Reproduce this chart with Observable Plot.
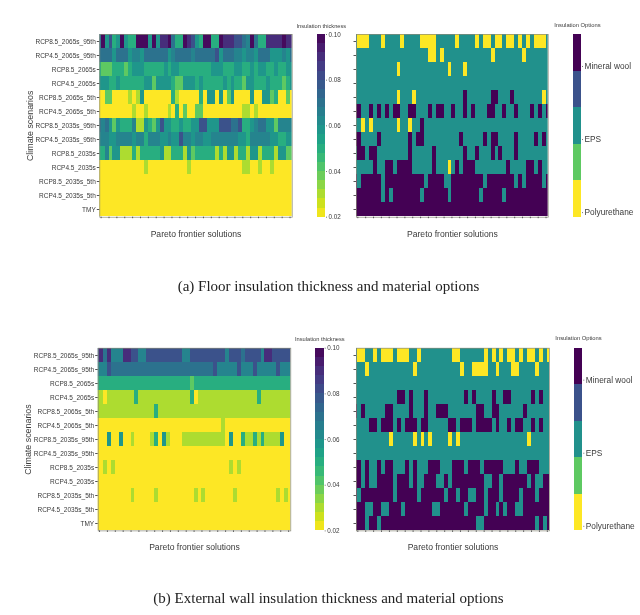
<!DOCTYPE html>
<html>
<head>
<meta charset="utf-8">
<script src="https://cdn.jsdelivr.net/npm/d3@7"></script>
<script src="https://cdn.jsdelivr.net/npm/@observablehq/plot@0.6"></script>
<style>
  html, body { margin: 0; padding: 0; background: #fff; }
  #page { position: relative; width: 640px; height: 615px; overflow: hidden; font-family: "Liberation Sans", Arial, sans-serif; }
  #page svg { position: absolute; overflow: visible; filter: blur(0.4px); }
  .caption { position: absolute; left: 8.5px; width: 640px; text-align: center; font-family: "Liberation Serif", "Times New Roman", serif; font-size: 15px; color: #222; line-height: 16px; filter: blur(0.25px); }
</style>
</head>
<body>
<div id="page"></div>
<script>
const scenarios = ["RCP8.5_2065s_95th","RCP4.5_2065s_95th","RCP8.5_2065s","RCP4.5_2065s","RCP8.5_2065s_5th","RCP4.5_2065s_5th","RCP8.5_2035s_95th","RCP4.5_2035s_95th","RCP8.5_2035s","RCP4.5_2035s","RCP8.5_2035s_5th","RCP4.5_2035s_5th","TMY"];

// thickness classes (letter -> metres)
const thicknessCode = {a:0.02,b:0.03,c:0.04,d:0.05,e:0.058,f:0.064,g:0.07,h:0.08,i:0.09,j:0.098};

// Floor thickness: one string per scenario, 50 columns (first and last are cut by the frame)
const floorThickness = [
 "gjehd ejedd jjjej eiijg ddjih edjjd djiii hhgfj gddii iijii",
 "gggge gggef feggg gggef ggggf ggggg heggg ffeff eggge eefeg",
 "dcccd ddcde eeddd ddede edddd dddde eeddd eedde deedd eddee",
 "eeedd edddd ddeec eeeed cceee deddd ddede ddcee ddded ddcde",
 "aacca aaaba beaaa aaaad baaaa adaee aeace aaaae aaeec daaca",
 "aaaaa aaaab aabaa aaaba dacaa ccaaa aaaaa aabba baaaa aaaaa",
 "gfgec edddf bbedc eheed dedde ehhee ehhhg ghdde fggee cffff",
 "fffee ffffe ffdff feefe ehffe ffeef fffff feedf ffffe eddee",
 "ddfce ebbbd bdddd debbd ddbec ddddd bdbee bddbe ebddd beecc",
 "aaaaa aaaaa aabaa aaaaa aaaba aaaaa aaaaa aabba abaab aaaaa",
 "aaaaa aaaaa aaaaa aaaaa aaaaa aaaaa aaaaa aaaaa aaaaa aaaaa",
 "aaaaa aaaaa aaaaa aaaaa aaaaa aaaaa aaaaa aaaaa aaaaa aaaaa",
 "aaaaa aaaaa aaaaa aaaaa aaaaa aaaaa aaaaa aaaaa aaaaa aaaaa"
];

// External wall thickness
const wallThickness = [
 "higif ffiih hffhh hhhhh hhffh hhhhh hhhfh hhghh hhfii hhhhh",
 "fffhg ggggg ggggg ggggg ggggg ggggg hffff fhfff hffff fhfff",
 "ddddd ddddd ddddd ddddd ddddc ddddd ddddd ddddd ddddd ddddd",
 "bbabb bbbbb dbbbb bbbbb bbbbd abbbb bbbbb bbbbb bdbbb bbbbb",
 "bbbbb bbbbb bbbbb dbbbb bbbbb bbbbb bbbbb bbbbb bbbbb bbbbb",
 "aaaaa aaaaa aaaaa aaaaa aaaaa aaaaa aabaa aaaaa aaaaa aaaaa",
 "aaaea aeaab aaaab daeba aabbb bbbbb bbbae aadbb dbdbb bbeaa",
 "aaaaa aaaaa aaaaa aaaaa aaaaa aaaaa aaaaa aaaaa aaaaa aaaaa",
 "aabab aaaaa aaaaa aaaaa aaaaa aaaaa aaaab abaaa aaaaa aaaaa",
 "aaaaa aaaaa aaaaa aaaaa aaaaa aaaaa aaaaa aaaaa aaaaa aaaaa",
 "aaaaa aaaab aaaaa baaaa aaaaa babaa aaaaa baaaa aaaaa ababa",
 "aaaaa aaaaa aaaaa aaaaa aaaaa aaaaa aaaaa aaaaa aaaaa aaaaa",
 "aaaaa aaaaa aaaaa aaaaa aaaaa aaaaa aaaaa aaaaa aaaaa aaaaa"
];

// Material options: default per scenario, then the columns that differ
const EPS = "EPS", PU = "Polyurethane", MW = "Mineral wool";
const floorDefault = [EPS,EPS,EPS,EPS,EPS,EPS,EPS,EPS,EPS,EPS,MW,MW,MW];
const floorPU = [[1,2,3,7,12,17,18,19,20,26,31,33,34,36,37,39,40,42,44,46,47,48],[19,20,22,35,43],[11,24,28],[],[11,15,48],[],[2,4,11,14],[],[],[24],[],[],[]];
const floorMW = [[],[],[],[],[28,35,36,40],[0,1,4,6,8,10,11,14,15,19,21,22,25,28,30,34,35,38,41,45,47,49],[17],[0,1,6,14,16,17,27,33,35,36,41,46,48],[1,2,4,5,14,20,28,31,35,37,41],[5,8,9,11,12,13,14,20,26,28,29,30,39,44,45,47],[],[],[]];
const floorEPS = [[],[],[],[],[],[],[],[],[],[],[1,7,18,23,24,33,41,43,48],[7,9,17,24,32,38],[]];

const wallDefault = [EPS,EPS,EPS,EPS,EPS,EPS,EPS,EPS,EPS,MW,MW,MW,MW];
const wallPU = [[1,2,5,7,8,9,11,12,13,16,25,26,33,35,37,39,40,42,44,45,47,49],[3,15,27,30,31,32,33,36,40,41,46],[],[],[],[],[9,15,17,19,24,26,44],[],[],[],[],[],[]];
const wallMW = [[],[],[],[11,12,14,18,28,30,35,38,39,45,47],[0,2,8,9,14,18,21,22,23,31,32,35,36,43],[4,5,7,8,9,11,13,14,15,17,18,24,25,27,28,29,31,32,33,34,36,39,41,42,45,47],[],[],[0,1,3,6,8,9,13,15,19,20,21,25,26,27,29,30,31,33,34,35,36,37,41,44,45,46],[],[],[],[]];
const wallEPS = [[],[],[],[],[],[],[],[],[],[2,4,5,10,14,16,17,21,22,24,33,34,37,44,46,47],[1,10,16,23,26,29,30,33,37,42,46],[3,4,7,8,12,20,21,28,33,36,38,41,42],[3,6,31,32,46,48]];

const optionBands = [PU,"green band",EPS,"blue band",MW];
const optionColors = ["#fde725","#5ec962","#21918c","#3b528b","#440154"];
const optionTicks = [PU,EPS,MW];
const thicknessTicks = [0.02,0.04,0.06,0.08,0.10];
const thicknessBands = [0.020,0.024,0.028,0.032,0.036,0.040,0.044,0.048,0.052,0.056,0.060,0.064,0.068,0.072,0.076,0.080,0.084,0.088,0.092,0.096];
const columnTicks = [1,3,5,7,9,11,13,15,17,19,21,23,25,27,29,31,33,35,37,39,41,43,45,47,49];

const tidyThickness = rows => rows.flatMap((row,r) => Array.from(row.replace(/ /g,""), (c,col) => ({scenario:scenarios[r],col,value:thicknessCode[c]})));
const tidyOptions = (base,pu,mw,eps) => base.flatMap((b,r) => d3.range(50).map(col => ({scenario:scenarios[r],col,value: pu[r].includes(col)?PU: mw[r].includes(col)?MW: eps[r].includes(col)?EPS: b})));

const thicknessColor = {type:"linear",scheme:"viridis",reverse:true,domain:[0.02,0.10]};
const optionColor = {type:"ordinal",domain:optionBands,range:optionColors};
const textColor = "#3a3a3a";
const page = document.getElementById("page");

function place(svg,left,top){ svg.style.left = left+"px"; svg.style.top = top+"px"; page.appendChild(svg); }

function heat({data,color,left,top,x0,x1,y0,y1,width,height,labels}){
  const marks = [
    Plot.barX(data,{x1:d=>d.col,x2:d=>d.col+1,y:"scenario",fill:"value",clip:true,shapeRendering:"crispEdges"}),
    Plot.frame({stroke:"#8a8a7a",strokeWidth:0.7}),
    Plot.axisY({anchor:"left",tickSize:2.5,tickPadding:1.5,fontSize:6.5,stroke:"#555",fill:textColor,label:null,tickFormat:labels?(d=>d):(()=>"")}),
    Plot.axisX(columnTicks,{anchor:"bottom",tickSize:1.5,stroke:"#555",label:null,tickFormat:()=>""}),
    Plot.text(["Pareto frontier solutions"],{frameAnchor:"bottom",dy:19.5,fontSize:8.6,fill:textColor})
  ];
  if(labels) marks.push(Plot.text(["Climate scenarios"],{frameAnchor:"left",textAnchor:"middle",rotate:-90,dx:-70,fontSize:8.9,fill:textColor}));
  place(Plot.plot({
    width,height,marginLeft:x0-left,marginRight:left+width-x1,marginTop:y0-top,marginBottom:top+height-y1,
    style:{background:"none",fontFamily:"Liberation Sans"},
    x:{domain:[0.66,49.55],axis:null},
    y:{domain:scenarios,padding:0,axis:null},
    color,
    marks
  }),left,top);
}

function thicknessBar({left,top,x0,x1,y0,y1,width,height}){
  place(Plot.plot({
    width,height,marginLeft:x0-left,marginRight:left+width-x1,marginTop:y0-top,marginBottom:top+height-y1,
    style:{background:"none",fontFamily:"Liberation Sans"},
    x:{axis:null},
    y:{domain:[0.02,0.10],axis:null},
    color:thicknessColor,
    marks:[
      Plot.barY(thicknessBands,{y1:d=>d,y2:d=>d+0.004,fill:d=>d+0.002,shapeRendering:"crispEdges"}),
      Plot.axisY(thicknessTicks,{anchor:"right",tickSize:1,tickPadding:2,fontSize:6.3,stroke:"#777",fill:textColor,label:null,tickFormat:d3.format(".2f")}),
      Plot.text(["Insulation thickness"],{frameAnchor:"top",dy:-11,fontSize:5.7,fill:textColor})
    ]
  }),left,top);
}

function optionBar({left,top,x0,x1,y0,y1,width,height}){
  const low = -0.0625, step = 0.5;
  place(Plot.plot({
    width,height,marginLeft:x0-left,marginRight:left+width-x1,marginTop:y0-top,marginBottom:top+height-y1,
    style:{background:"none",fontFamily:"Liberation Sans"},
    x:{axis:null},
    y:{domain:[low,low+step*optionBands.length],axis:null},
    color:optionColor,
    marks:[
      Plot.barY(optionBands,{y1:(d,i)=>low+step*i,y2:(d,i)=>low+step*(i+1),fill:d=>d,shapeRendering:"crispEdges"}),
      Plot.axisY([0,1,2],{anchor:"right",tickSize:1,tickPadding:2,fontSize:8.3,stroke:"#777",fill:textColor,label:null,tickFormat:i=>optionTicks[i]}),
      Plot.text(["Insulation Options"],{frameAnchor:"top",dy:-12,fontSize:5.8,fill:textColor})
    ]
  }),left,top);
}

heat({data:tidyThickness(floorThickness),color:thicknessColor,left:0,top:20,width:293,height:225,x0:99.3,x1:291.7,y0:34,y1:216.7,labels:true});
thicknessBar({left:293,top:20,width:57,height:205,x0:316.7,x1:325,y0:34,y1:216.7});
heat({data:tidyOptions(floorDefault,floorPU,floorMW,floorEPS),color:optionColor,left:350,top:20,width:198,height:225,x0:356,x1:547.7,y0:34,y1:216.7,labels:false});
optionBar({left:548,top:20,width:92,height:205,x0:572.7,x1:581,y0:34,y1:216.7});

heat({data:tidyThickness(wallThickness),color:thicknessColor,left:0,top:332,width:293,height:225,x0:97.7,x1:290.3,y0:347.7,y1:530.4,labels:true});
thicknessBar({left:293,top:332,width:57,height:205,x0:315,x1:323.7,y0:347.7,y1:530.4});
heat({data:tidyOptions(wallDefault,wallPU,wallMW,wallEPS),color:optionColor,left:350,top:332,width:200,height:225,x0:356,x1:549,y0:347.7,y1:530.4,labels:false});
optionBar({left:550,top:332,width:90,height:205,x0:573.7,x1:582.3,y0:347.7,y1:530.4});

for (const [text,top] of [["(a) Floor insulation thickness and material options",278],["(b) External wall insulation thickness and material options",590]]) {
  const div = document.createElement("div");
  div.className = "caption";
  div.style.top = top+"px";
  div.textContent = text;
  page.appendChild(div);
}
</script>
</body>
</html>
